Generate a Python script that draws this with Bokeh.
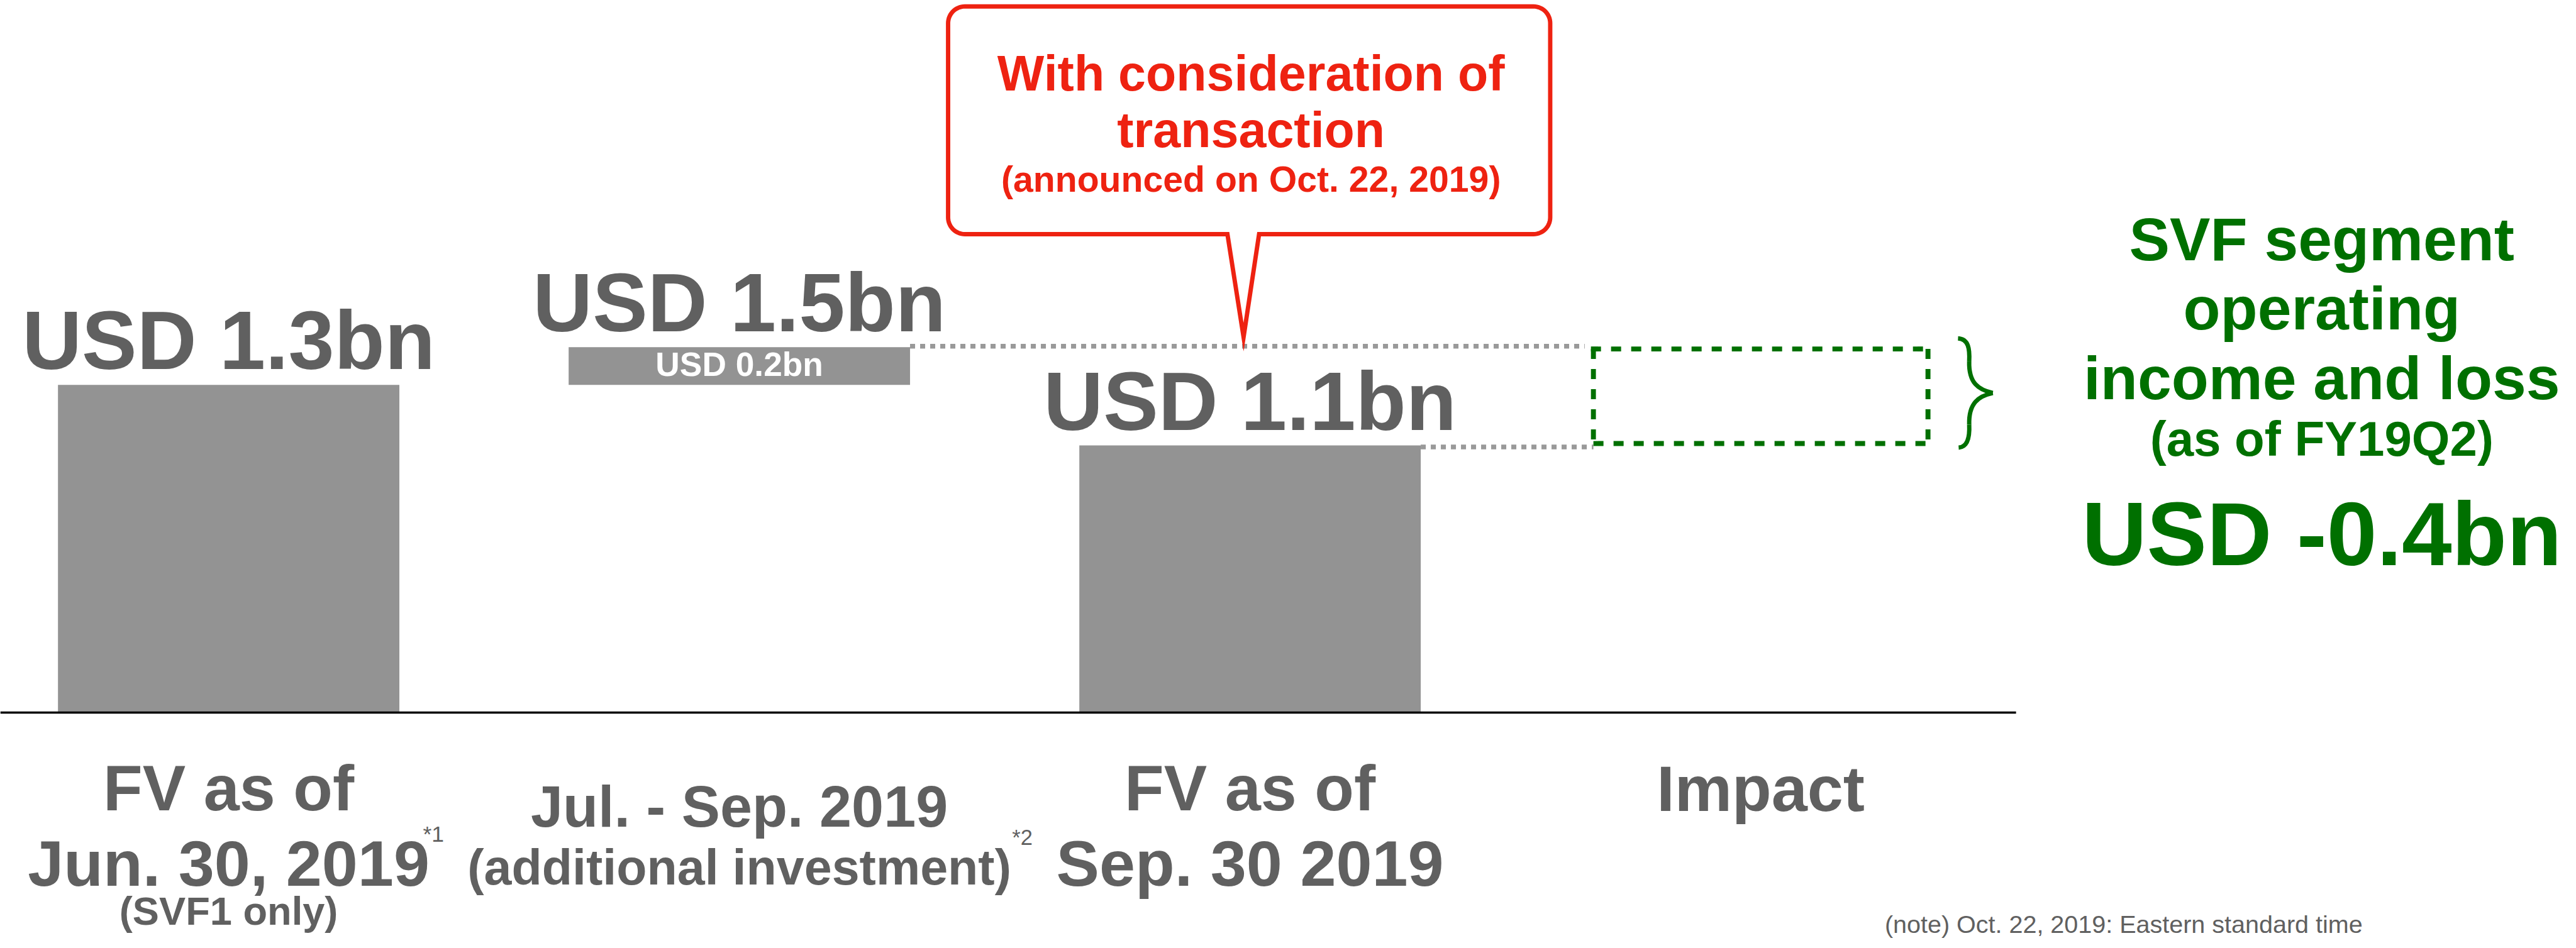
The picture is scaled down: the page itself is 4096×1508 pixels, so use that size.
import numpy as np
from bokeh.plotting import figure
from bokeh.models import Range1d
from bokeh.core.properties import value
from bokeh.embed import file_html
from bokeh.resources import INLINE

# ---------------- data ----------------
categories = ["FV as of Jun. 30, 2019", "Jul. - Sep. 2019 (additional investment)",
              "FV as of Sep. 30 2019", "Impact"]
cat_lines_main = [["FV as of", "Jun. 30, 2019"], ["Jul. - Sep. 2019"], ["FV as of", "Sep. 30 2019"], ["Impact"]]
cat_sub = ["(SVF1 only)", "(additional investment)"]
cat_notes = ["*1", "*2"]
fv_jun30 = 1.30          # USD bn
additional = 0.15        # USD bn (shown rounded as 0.2)
fv_sep30 = 1.06          # USD bn
value_labels = ["USD 1.3bn", "USD 1.5bn", "USD 1.1bn"]
additional_label = "USD 0.2bn"
callout_lines = ["With consideration of", "transaction"]
callout_sub = "(announced on Oct. 22, 2019)"
result_lines = ["SVF segment", "operating", "income and loss"]
result_sub = "(as of FY19Q2)"
result_value = "USD -0.4bn"
footnote = "(note) Oct. 22, 2019: Eastern standard time"

# ---------------- geometry helpers ----------------
S = 0.987           # scale vs reference
M = 8               # page margin
W, H = 4080, 1492
REF_X0, REF_DX = 376.0, 822.7       # reference px of category 0 and spacing
REF_BASE, REF_PER_BN = 1156.0, 406.2
BASELINE_FIX = 0.28                 # em, compensates renderer's baseline placement


def X(xr):
    return (xr - REF_X0) / REF_DX


def Y(yr):
    return (REF_BASE - yr) / REF_PER_BN


def fs(v):
    return f"{v * S:.1f}px"


x_start, x_end = X(M / S), X((W + M) / S)
y_bottom, y_top = Y((H + M) / S), Y(M / S)

GRAY_TXT = "#606060"
BAR = "#939393"
DOT = "#999999"
GREEN = "#007000"
RED = "#EE2211"
FONT = value("Liberation Sans")
BAR_W = 550 / REF_DX
BOX_W = 539 / REF_DX

p = figure(width=W, height=H, x_range=Range1d(x_start, x_end), y_range=Range1d(y_bottom, y_top),
           output_backend="svg", toolbar_location=None, x_axis_type=None, y_axis_type=None,
           min_border=0, min_border_left=0, min_border_right=0, min_border_top=0, min_border_bottom=0)
p.grid.visible = False
p.outline_line_color = None
p.background_fill_color = "white"
p.border_fill_color = "white"


def txt(x, y, t, size, color, bold=True, align="center"):
    y = y + BASELINE_FIX * size / REF_PER_BN
    p.text(x=[x], y=[y], text=[t], text_font=FONT, text_font_size=fs(size),
           text_font_style="bold" if bold else "normal", text_color=color,
           text_align=align, text_baseline="alphabetic")


# ---------------- bars ----------------
p.vbar(x=[0, 2], bottom=0, top=[fv_jun30, fv_sep30], width=BAR_W, fill_color=BAR, line_color=None)
top15 = fv_jun30 + additional
p.vbar(x=[1], bottom=[fv_jun30], top=[top15], width=BAR_W, fill_color=BAR, line_color=None)

# baseline
p.segment(x0=[x_start], x1=[3.5], y0=[0], y1=[0], line_color="black", line_width=3.5 * S)

# dotted connectors
gap = 10 / REF_DX
p.segment(x0=[1 + BAR_W / 2], x1=[3 - BOX_W / 2 - gap - 4 / REF_DX], y0=[top15 + 1.5 / REF_PER_BN],
          y1=[top15 + 1.5 / REF_PER_BN], line_color=DOT, line_width=7.6 * S, line_dash="8 8")
p.segment(x0=[2 + BAR_W / 2], x1=[3 - BOX_W / 2], y0=[fv_sep30 - 2.5 / REF_PER_BN],
          y1=[fv_sep30 - 2.5 / REF_PER_BN], line_color=DOT, line_width=7.6 * S, line_dash="8 8")

# impact box (green dashed)
inset = 3 / REF_PER_BN
bl, br = 3 - BOX_W / 2, 3 + BOX_W / 2
bt, bb = top15 - inset, fv_sep30 + inset
p.multi_line(xs=[[bl - 4 / REF_DX, br], [br, br], [bl, bl], [bl, br]],
             ys=[[bt, bt], [bt, bb], [bt, bb], [bb, bb]],
             line_color=GREEN, line_width=8 * S, line_dash="16 16")

# brace
bx = [(3162, 553), (3180, 590), (3218, 641), (3180, 692), (3163, 729)]
cps = [((3179, 554), (3181, 570)), ((3179, 625), (3195, 636)),
       ((3195, 646), (3179, 657)), ((3181, 712), (3178, 728))]
p.bezier(x0=[X(a[0]) for a in bx[:-1]], y0=[Y(a[1]) for a in bx[:-1]],
         x1=[X(a[0]) for a in bx[1:]], y1=[Y(a[1]) for a in bx[1:]],
         cx0=[X(c[0][0]) for c in cps], cy0=[Y(c[0][1]) for c in cps],
         cx1=[X(c[1][0]) for c in cps], cy1=[Y(c[1][1]) for c in cps],
         line_color=GREEN, line_width=7 * S)

# ---------------- value labels ----------------
lab_off = 34 / REF_PER_BN
VS = 133
txt(0, fv_jun30 + lab_off, value_labels[0], VS, GRAY_TXT)
txt(1, top15 + lab_off, value_labels[1], VS, GRAY_TXT)
txt(2, fv_sep30 + lab_off, value_labels[2], VS, GRAY_TXT)
txt(1, fv_jun30 + 18 / REF_PER_BN, additional_label, 54, "white")

# ---------------- callout ----------------
cx0, cy0, cx1, cy1, r = 1535, 18, 2505, 385, 27
pb_l, pb_r, tip = 1985, 2036, (2011, 551)
pts = [(pb_l, cy1), (cx0 + r, cy1)]
arcs = [(cx0 + r, cy1 - r, 90, 180), (cx0 + r, cy0 + r, 180, 270),
        (cx1 - r, cy0 + r, 270, 360), (cx1 - r, cy1 - r, 0, 90)]
for (ccx, ccy, a0, a1) in arcs:
    th = np.radians(np.linspace(a0, a1, 16))
    pts += list(zip(ccx + r * np.cos(th), ccy + r * np.sin(th)))
pts += [(pb_r, cy1), tip, (pb_l, cy1)]
p.patch(x=[X(a) for a, b in pts], y=[Y(b) for a, b in pts], fill_color="white",
        line_color=RED, line_width=7 * S, line_join="miter")
ccx_mid = X(2023)
txt(ccx_mid, Y(148), callout_lines[0], 80, RED)
txt(ccx_mid, Y(239), callout_lines[1], 80, RED)
txt(ccx_mid, Y(313), callout_sub, 58, RED)

# ---------------- result text (green) ----------------
gx = X(3748)
for t, b in zip(result_lines, [419.6, 531.7, 643.8]):
    txt(gx, Y(b), t, 98, GREEN)
txt(gx, Y(736.6), result_sub, 79, GREEN)
txt(gx, Y(908), result_value, 145, GREEN)

# ---------------- category labels ----------------
CS = 104
txt(0, Y(1307), cat_lines_main[0][0], CS, GRAY_TXT)
txt(0, Y(1428), cat_lines_main[0][1], CS, GRAY_TXT)
txt(0, Y(1494), cat_sub[0], 64, GRAY_TXT)
txt(1, Y(1334), cat_lines_main[1][0], 93, GRAY_TXT)
txt(1, Y(1428), cat_sub[1], 80, GRAY_TXT)
txt(2, Y(1307), cat_lines_main[2][0], CS, GRAY_TXT)
txt(2, Y(1428), cat_lines_main[2][1], CS, GRAY_TXT)
txt(3, Y(1308), cat_lines_main[3][0], CS, GRAY_TXT)
txt(X(689), Y(1362), cat_notes[0], 36, GRAY_TXT, bold=False, align="left")
txt(X(1638), Y(1367), cat_notes[1], 35, GRAY_TXT, bold=False, align="left")

# footnote (bottom right, kept just inside the page)
txt(X(3044), Y(1508), footnote, 40, GRAY_TXT, bold=False, align="left")

open("out.html", "w").write(file_html(p, INLINE))
